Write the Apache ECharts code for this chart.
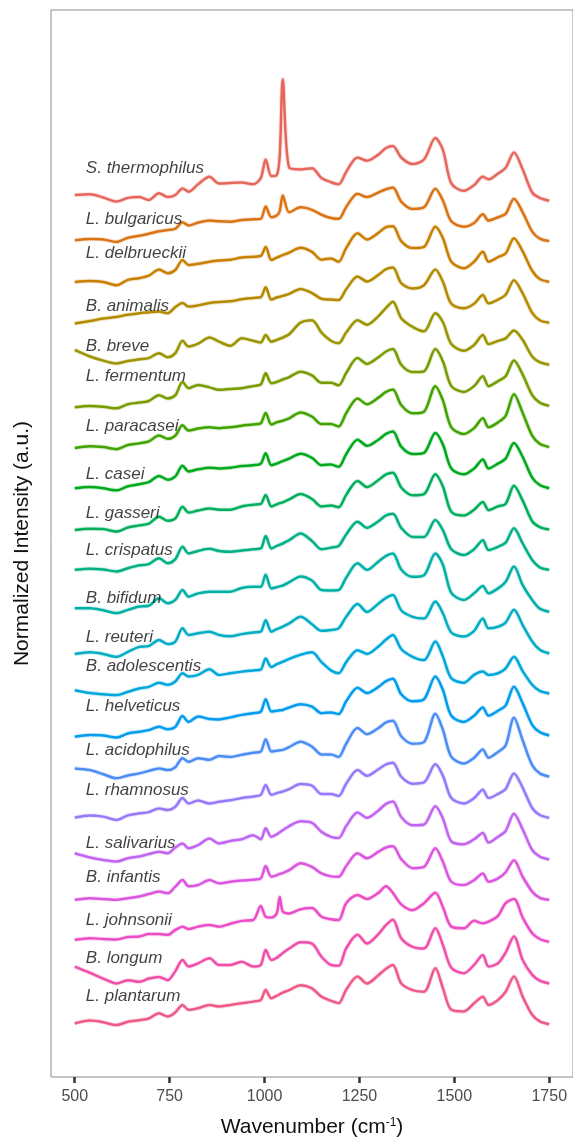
<!DOCTYPE html>
<html>
<head>
<meta charset="utf-8">
<script src="https://cdn.jsdelivr.net/npm/echarts@6/dist/echarts.min.js"></script>
<style>
  html, body { margin: 0; padding: 0; background: #ffffff; }
  #chart { width: 573px; height: 1144px; }
</style>
</head>
<body>
<div id="chart"></div>
<script>
// Mean Raman spectra of 21 probiotic strains (stacked, offset by one unit each)
const wavenumbers = [500, 540, 575, 610, 640, 670, 695, 722, 745, 765, 784, 800, 825, 855, 880, 910, 940, 970, 990, 1003, 1018, 1032, 1040, 1048, 1065, 1095, 1125, 1150, 1175, 1195, 1215, 1245, 1270, 1300, 1320, 1338, 1360, 1390, 1420, 1450, 1470, 1492, 1525, 1552, 1575, 1590, 1615, 1635, 1657, 1680, 1705, 1725, 1750];

const xTicks = [500, 750, 1000, 1250, 1500, 1750];

const speciesNames = ['S. thermophilus', 'L. bulgaricus', 'L. delbrueckii', 'B. animalis', 'B. breve', 'L. fermentum', 'L. paracasei', 'L. casei', 'L. gasseri', 'L. crispatus', 'B. bifidum', 'L. reuteri', 'B. adolescentis', 'L. helveticus', 'L. acidophilus', 'L. rhamnosus', 'L. salivarius', 'B. infantis', 'L. johnsonii', 'B. longum', 'L. plantarum'];

const sThermophilus = [0.14,0.16,0.08,-0.02,0.07,0.09,0.02,0.18,0.09,0.14, 0.30,0.22,0.40,0.58,0.42,0.43,0.44,0.40,0.55,1.00, 0.60,0.62,1.10,2.95,0.80,0.76,0.79,0.55,0.45,0.40, 0.70,1.05,0.97,1.12,1.28,1.33,1.05,0.89,1.00,1.52, 1.23,0.42,0.24,0.38,0.58,0.52,0.66,0.80,1.17,0.76, 0.20,0.07,0.00];
const lBulgaricus = [0.04,0.07,0.06,0.00,0.10,0.15,0.20,0.26,0.29,0.32, 0.48,0.40,0.47,0.52,0.50,0.49,0.53,0.55,0.56,0.86, 0.60,0.64,0.75,1.13,0.72,0.84,0.78,0.66,0.58,0.56, 0.85,1.17,1.09,1.20,1.28,1.32,0.98,0.80,0.84,1.29, 1.00,0.50,0.37,0.46,0.67,0.52,0.60,0.68,1.05,0.72, 0.25,0.08,0.02];
const lDelbrueckii = [0.03,0.05,0.03,-0.05,0.08,0.12,0.18,0.33,0.24,0.32, 0.56,0.44,0.47,0.52,0.55,0.57,0.62,0.64,0.66,0.88, 0.56,0.62,0.65,0.68,0.74,0.86,0.76,0.57,0.60,0.52, 0.85,1.21,1.06,1.22,1.36,1.38,1.02,0.85,0.88,1.37, 1.09,0.52,0.36,0.52,0.76,0.52,0.63,0.72,1.09,0.77, 0.30,0.10,0.03];
const bAnimalis = [0.02,0.08,0.14,0.18,0.23,0.27,0.29,0.31,0.27,0.42, 0.52,0.43,0.46,0.52,0.54,0.56,0.61,0.64,0.66,0.90, 0.60,0.65,0.67,0.69,0.74,0.86,0.76,0.62,0.60,0.59, 0.85,1.16,1.04,1.20,1.34,1.38,1.00,0.87,0.95,1.33, 1.03,0.50,0.39,0.50,0.71,0.51,0.60,0.72,1.07,0.75, 0.28,0.10,0.04];
const bBreve = [0.38,0.22,0.12,0.05,0.11,0.15,0.18,0.30,0.20,0.30, 0.60,0.46,0.53,0.68,0.58,0.48,0.66,0.60,0.56,0.74, 0.58,0.62,0.65,0.68,0.76,1.04,1.10,0.80,0.60,0.54, 0.80,1.10,0.99,1.20,1.40,1.55,1.15,0.94,0.83,1.27, 1.05,0.52,0.36,0.50,0.74,0.52,0.60,0.66,0.85,0.62, 0.22,0.08,0.02];
const lFermentum = [-0.01,0.02,0.00,-0.04,0.06,0.10,0.14,0.28,0.20,0.28, 0.60,0.45,0.53,0.47,0.41,0.43,0.45,0.50,0.54,0.81, 0.57,0.60,0.63,0.66,0.72,0.85,0.76,0.58,0.58,0.52, 0.82,1.18,1.04,1.20,1.34,1.40,1.02,0.84,0.86,1.40, 1.10,0.50,0.36,0.50,0.74,0.50,0.62,0.74,1.12,0.78, 0.28,0.10,0.02];
const lParacasei = [0.00,0.04,0.02,-0.03,0.07,0.11,0.16,0.30,0.22,0.30, 0.55,0.42,0.47,0.50,0.48,0.50,0.54,0.57,0.60,0.85, 0.57,0.62,0.64,0.66,0.72,0.86,0.76,0.58,0.58,0.52, 0.84,1.20,1.06,1.22,1.36,1.42,1.04,0.84,0.88,1.50, 1.15,0.50,0.34,0.48,0.72,0.50,0.62,0.78,1.30,0.85, 0.30,0.10,0.02];
const lCasei = [0.02,0.05,0.02,-0.03,0.07,0.12,0.17,0.32,0.23,0.31, 0.57,0.43,0.48,0.52,0.50,0.52,0.56,0.58,0.62,0.87, 0.58,0.62,0.65,0.68,0.74,0.86,0.76,0.58,0.60,0.54, 0.85,1.20,1.05,1.20,1.34,1.40,1.03,0.85,0.88,1.36, 1.08,0.50,0.36,0.50,0.72,0.50,0.62,0.74,1.12,0.78, 0.28,0.10,0.02];
const lGasseri = [0.01,0.04,0.03,-0.03,0.07,0.12,0.16,0.33,0.23,0.29, 0.57,0.43,0.48,0.53,0.50,0.50,0.58,0.62,0.64,0.86, 0.58,0.63,0.66,0.68,0.75,0.88,0.76,0.58,0.60,0.56, 0.86,1.20,1.05,1.22,1.36,1.40,1.04,0.85,0.88,1.36, 1.06,0.45,0.36,0.50,0.69,0.49,0.58,0.64,1.08,0.72, 0.22,0.08,0.02];
const lCrispatus = [0.04,0.07,0.05,0.00,0.08,0.15,0.18,0.32,0.20,0.30, 0.60,0.44,0.50,0.55,0.50,0.48,0.51,0.54,0.56,0.86, 0.56,0.62,0.65,0.68,0.76,0.92,0.74,0.54,0.58,0.62, 0.90,1.21,1.06,1.22,1.36,1.40,1.06,0.84,0.84,1.25, 1.00,0.54,0.40,0.54,0.76,0.52,0.60,0.70,1.05,0.68, 0.28,0.10,0.04];
const bBifidum = [0.11,0.11,0.06,-0.01,0.07,0.15,0.17,0.35,0.23,0.31, 0.55,0.39,0.47,0.51,0.51,0.51,0.60,0.63,0.63,0.92, 0.59,0.62,0.64,0.66,0.74,0.88,0.78,0.55,0.54,0.55, 0.85,1.20,1.04,1.24,1.38,1.44,1.05,0.87,0.91,1.44, 1.16,0.48,0.31,0.47,0.65,0.47,0.59,0.75,1.12,0.67, 0.31,0.10,0.02];
const lReuteri = [0.00,0.04,0.00,-0.07,0.05,0.17,0.19,0.34,0.24,0.30, 0.62,0.46,0.50,0.54,0.46,0.43,0.48,0.52,0.54,0.82, 0.54,0.60,0.63,0.66,0.74,0.90,0.72,0.56,0.58,0.62, 0.90,1.21,1.02,1.22,1.36,1.43,1.06,0.90,0.86,1.27, 0.98,0.52,0.42,0.56,0.86,0.62,0.66,0.76,1.07,0.70, 0.30,0.10,0.01];
const bAdolescentis = [0.12,0.05,0.02,0.00,0.08,0.16,0.20,0.30,0.25,0.33, 0.53,0.45,0.49,0.63,0.49,0.53,0.57,0.60,0.62,0.89, 0.68,0.75,0.78,0.81,0.88,0.98,1.04,0.80,0.60,0.53, 0.80,1.09,1.00,1.18,1.35,1.46,1.12,0.93,0.85,1.30, 0.93,0.41,0.30,0.49,0.57,0.49,0.53,0.65,0.93,0.58, 0.25,0.10,0.04];
const lHelveticus = [-0.01,0.03,0.02,-0.03,0.07,0.11,0.15,0.23,0.17,0.23, 0.49,0.35,0.48,0.42,0.41,0.46,0.52,0.56,0.60,0.90, 0.60,0.62,0.63,0.64,0.70,0.78,0.72,0.56,0.58,0.54, 0.85,1.18,1.05,1.20,1.34,1.40,1.02,0.85,0.90,1.45, 1.12,0.50,0.35,0.50,0.70,0.50,0.62,0.75,1.20,0.80, 0.28,0.10,0.02];
const lAcidophilus = [0.22,0.18,0.08,-0.02,0.05,0.10,0.16,0.22,0.18,0.25, 0.47,0.38,0.47,0.43,0.52,0.50,0.55,0.60,0.63,0.93, 0.63,0.65,0.66,0.67,0.74,0.87,0.75,0.56,0.56,0.50, 0.82,1.20,1.05,1.20,1.34,1.38,1.00,0.82,0.86,1.55, 1.15,0.50,0.34,0.48,0.68,0.48,0.62,0.78,1.45,0.90, 0.30,0.10,0.02];
const lRhamnosus = [0.03,0.08,0.05,-0.03,0.08,0.13,0.16,0.25,0.21,0.29, 0.50,0.37,0.44,0.37,0.41,0.45,0.50,0.54,0.58,0.82, 0.58,0.62,0.64,0.66,0.72,0.84,0.80,0.60,0.60,0.55, 0.85,1.18,1.04,1.20,1.32,1.36,1.02,0.85,0.88,1.32, 1.04,0.50,0.37,0.50,0.70,0.50,0.60,0.72,1.10,0.75, 0.26,0.09,0.02];
const lSalivarius = [0.16,0.06,0.00,-0.04,0.04,0.08,0.14,0.20,0.16,0.30, 0.40,0.28,0.36,0.52,0.40,0.46,0.50,0.60,0.50,0.77, 0.56,0.62,0.67,0.72,0.82,0.94,0.90,0.68,0.56,0.53, 0.82,1.15,1.02,1.20,1.36,1.42,1.04,0.84,0.86,1.30, 1.00,0.45,0.38,0.50,0.65,0.42,0.56,0.70,1.12,0.74, 0.24,0.08,0.01];
const bInfantis = [0.03,0.07,0.05,0.03,0.07,0.11,0.17,0.23,0.19,0.35, 0.51,0.36,0.39,0.51,0.43,0.47,0.50,0.52,0.55,0.85, 0.59,0.63,0.66,0.68,0.75,0.92,0.83,0.67,0.60,0.59, 0.85,1.16,1.04,1.20,1.30,1.33,1.02,0.80,0.83,1.28, 0.95,0.47,0.39,0.51,0.67,0.47,0.55,0.70,0.99,0.59, 0.23,0.08,0.03];
const lJohnsonii = [0.06,0.10,0.08,0.07,0.13,0.14,0.20,0.20,0.18,0.30, 0.38,0.32,0.38,0.42,0.38,0.45,0.52,0.54,0.88,0.62, 0.60,0.70,1.10,0.75,0.70,0.80,0.83,0.62,0.56,0.54, 0.95,1.15,1.05,1.20,1.36,1.20,0.92,0.78,0.95,1.20, 0.85,0.38,0.34,0.52,0.46,0.50,0.64,0.95,1.05,0.60, 0.22,0.08,0.01];
const bLongum = [0.41,0.26,0.12,0.00,0.08,0.04,0.12,0.16,0.08,0.30, 0.57,0.41,0.49,0.61,0.45,0.45,0.53,0.41,0.45,0.81, 0.57,0.62,0.68,0.74,0.85,1.00,0.97,0.65,0.45,0.43, 0.85,1.18,0.97,1.20,1.42,1.55,1.10,0.89,0.85,1.34, 0.93,0.38,0.25,0.45,0.69,0.41,0.49,0.75,1.14,0.57, 0.21,0.07,0.00];
const lPlantarum = [0.03,0.10,0.06,-0.01,0.07,0.11,0.15,0.28,0.20,0.30, 0.48,0.36,0.40,0.48,0.44,0.48,0.52,0.56,0.60,0.84, 0.64,0.70,0.74,0.78,0.84,0.96,0.88,0.68,0.58,0.52, 0.85,1.17,1.00,1.20,1.36,1.45,1.00,0.84,0.80,1.37, 0.88,0.36,0.32,0.52,0.68,0.48,0.60,0.80,1.17,0.68, 0.24,0.08,0.01];

const spectra = [sThermophilus, lBulgaricus, lDelbrueckii, bAnimalis, bBreve, lFermentum, lParacasei, lCasei, lGasseri, lCrispatus, bBifidum, lReuteri, bAdolescentis, lHelveticus, lAcidophilus, lRhamnosus, lSalivarius, bInfantis, lJohnsonii, bLongum, lPlantarum];

// ---- layout ----
// how far above each trace's baseline its name sits (in offset units)
const labelLift = [0.80, 0.56, 0.73, 0.43, 0.46, 0.73, 0.53, 0.37, 0.41, 0.52, 0.35, 0.40, 0.71, 0.72, 0.67, 0.70, 0.40, 0.57, 0.54, 0.61, 0.68];
const labelX = 528;
const FONT = 'Liberation Sans, Arial, sans-serif';

// evenly spaced HCL hues around the colour wheel
function hclToHex(h, c, l) {
  const hr = h * Math.PI / 180;
  const U = c * Math.cos(hr), V = c * Math.sin(hr);
  const Xn = 95.047, Yn = 100, Zn = 108.883;
  const den = Xn + 15 * Yn + 3 * Zn;
  const un = 4 * Xn / den, vn = 9 * Yn / den;
  const Y = l > 8 ? Yn * Math.pow((l + 16) / 116, 3) : Yn * l / 903.3;
  const u = U / (13 * l) + un, v = V / (13 * l) + vn;
  const X = Y * 9 * u / (4 * v);
  const Z = Y * (12 - 3 * u - 20 * v) / (4 * v);
  const x = X / 100, y = Y / 100, z = Z / 100;
  const lin = [
    3.2404542 * x - 1.5371385 * y - 0.4985314 * z,
    -0.9692660 * x + 1.8760108 * y + 0.0415560 * z,
    0.0556434 * x - 0.2040259 * y + 1.0572252 * z
  ];
  return '#' + lin.map(t => {
    let s = t <= 0.0031308 ? 12.92 * t : 1.055 * Math.pow(t, 1 / 2.4) - 0.055;
    s = Math.max(0, Math.min(1, s));
    return Math.round(s * 255).toString(16).padStart(2, '0');
  }).join('');
}

const n = speciesNames.length;
const colors = speciesNames.map((_, i) => hclToHex(15 + 360 * i / n, 100, 59));

const series = [];
spectra.forEach((vals, i) => {
  const offset = n - 1 - i;
  const pts = wavenumbers.map((w, k) => [w, vals[k] + offset]);
  // soft band under each trace
  series.push({
    type: 'line', data: pts, smooth: 0.3, symbol: 'none', silent: true, z: 1,
    lineStyle: { color: colors[i], width: 4.5, opacity: 0.2 }
  });
  series.push({
    type: 'line', name: speciesNames[i], data: pts, smooth: 0.3, symbol: 'none', z: 2,
    lineStyle: { color: colors[i], width: 2.5 }
  });
});

series.push({
  type: 'scatter', z: 5, symbolSize: 1, silent: true,
  itemStyle: { color: 'rgba(0,0,0,0)' },
  data: speciesNames.map((name, i) => ({ name: name, value: [labelX, n - 1 - i + labelLift[i]] })),
  label: {
    show: true, position: 'right', distance: 0,
    formatter: p => p.name,
    fontFamily: FONT, fontStyle: 'italic', fontSize: 17, color: '#111111'
  }
});

const chart = echarts.init(document.getElementById('chart'), null, { renderer: 'canvas' });
chart.setOption({
  animation: false,
  backgroundColor: '#ffffff',
  grid: { left: 51, right: 0, top: 10, bottom: 67, show: true, borderColor: '#8c8c8c', borderWidth: 1, backgroundColor: 'transparent' },
  xAxis: {
    type: 'value', min: 437.5, max: 1812.5,
    name: 'Wavenumber (cm{sup|-1})', nameLocation: 'middle', nameGap: 40,
    nameTextStyle: {
      fontFamily: FONT, fontSize: 21, color: '#111111',
      rich: { sup: { fontFamily: FONT, fontSize: 12, verticalAlign: 'top', color: '#111111' } }
    },
    axisLine: { show: false, onZero: false },
    axisTick: { show: true, customValues: xTicks, length: 6, lineStyle: { color: '#333333', width: 2.5 } },
    axisLabel: { show: true, customValues: xTicks, margin: 12, formatter: v => String(v), fontFamily: FONT, fontSize: 16, color: '#4d4d4d' },
    splitLine: { show: false }
  },
  yAxis: {
    type: 'value', min: -1.27, max: 24.63,
    name: 'Normalized Intensity (a.u.)', nameLocation: 'middle', nameGap: 18,
    nameTextStyle: { fontFamily: FONT, fontSize: 21, color: '#111111' },
    axisLine: { show: false }, axisTick: { show: false }, axisLabel: { show: false }, splitLine: { show: false }
  },
  series: series
});
</script>
</body>
</html>
